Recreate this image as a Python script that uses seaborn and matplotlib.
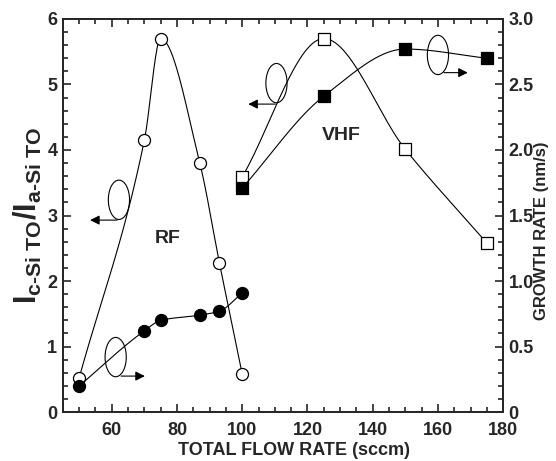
import numpy as np
import matplotlib
matplotlib.use("Agg")
import matplotlib.pyplot as plt
from matplotlib.patches import Ellipse
from matplotlib.ticker import MultipleLocator, FuncFormatter
import seaborn as sns

# RF (open circles: intensity ratio, filled circles: growth rate)
rf_flow = [50, 70, 75, 87, 93, 100]
rf_ratio = [0.52, 4.15, 5.70, 3.80, 2.28, 0.58]
rf_rate = [0.20, 0.62, 0.70, 0.74, 0.77, 0.91]

# VHF (open squares: intensity ratio, filled squares: growth rate)
vhf_flow = [100, 125, 150, 175]
vhf_ratio = [3.59, 5.70, 4.01, 2.58]
vhf_rate = [1.71, 2.41, 2.77, 2.70]


def pchip(x, y, n=200):
    # monotone cubic curve through the points, for the smooth guide lines
    x = np.asarray(x, float)
    y = np.asarray(y, float)
    h = np.diff(x)
    d = np.diff(y) / h
    m = np.zeros_like(y)
    for k in range(1, len(x) - 1):
        if d[k - 1] * d[k] > 0:
            w1 = 2 * h[k] + h[k - 1]
            w2 = h[k] + 2 * h[k - 1]
            m[k] = (w1 + w2) / (w1 / d[k - 1] + w2 / d[k])
    m[0] = d[0]
    m[-1] = d[-1]
    xs = np.linspace(x[0], x[-1], n)
    idx = np.clip(np.searchsorted(x, xs) - 1, 0, len(h) - 1)
    t = (xs - x[idx]) / h[idx]
    h00 = 2 * t**3 - 3 * t**2 + 1
    h10 = t**3 - 2 * t**2 + t
    h01 = -2 * t**3 + 3 * t**2
    h11 = t**3 - t**2
    ys = h00 * y[idx] + h10 * h[idx] * m[idx] + h01 * y[idx + 1] + h11 * h[idx] * m[idx + 1]
    return xs, ys


sns.set_style("ticks")
plt.rcParams["font.family"] = ["Liberation Sans", "DejaVu Sans"]
plt.rcParams["font.weight"] = "bold"
plt.rcParams["mathtext.fontset"] = "custom"
plt.rcParams["mathtext.rm"] = "Liberation Sans:bold"
plt.rcParams["mathtext.it"] = "Liberation Sans:bold"
plt.rcParams["mathtext.bf"] = "Liberation Sans:bold"

fig = plt.figure(figsize=(5.56, 4.61), dpi=100)
ax = fig.add_axes([0.113, 0.106, 0.792, 0.853])
ax2 = ax.twinx()

lw = 0.8
for xs, ys in [pchip(rf_flow, rf_ratio), pchip(vhf_flow, vhf_ratio)]:
    sns.lineplot(x=xs, y=ys, ax=ax, color="black", lw=lw, sort=False, zorder=2)
for xs, ys in [pchip(rf_flow, rf_rate), pchip(vhf_flow, vhf_rate)]:
    sns.lineplot(x=xs, y=ys, ax=ax2, color="black", lw=lw, sort=False, zorder=2)

sns.scatterplot(x=rf_flow, y=rf_ratio, ax=ax, marker="o", s=75, facecolor="white",
                edgecolor="black", linewidth=0.9, zorder=3)
sns.scatterplot(x=vhf_flow, y=vhf_ratio, ax=ax, marker="s", s=75, facecolor="white",
                edgecolor="black", linewidth=0.9, zorder=3)
sns.scatterplot(x=rf_flow, y=rf_rate, ax=ax2, marker="o", s=75, facecolor="black",
                edgecolor="black", linewidth=0.9, zorder=3)
sns.scatterplot(x=vhf_flow, y=vhf_rate, ax=ax2, marker="s", s=75, facecolor="black",
                edgecolor="black", linewidth=0.9, zorder=3)

ax.set_xlim(45, 180)
ax.set_ylim(0, 6)
ax2.set_ylim(0, 3)

# loops with arrows pointing to the axis each curve belongs to
loops = [((62.2, 3.24), (52.5, 2.93), (62.5, 2.93)),
         ((61.2, 0.84), (71.0, 0.55), (62.0, 0.55)),
         ((110.5, 5.02), (101.0, 4.70), (111.0, 4.70)),
         ((160.0, 5.45), (170.0, 5.18), (161.0, 5.18))]
for center, tip, tail in loops:
    ax.add_patch(Ellipse(center, width=6.5, height=0.6, fill=False, lw=lw, color="black", zorder=4))
    ax.annotate("", xy=tip, xytext=tail,
                arrowprops=dict(arrowstyle="-|>", color="black", lw=lw, mutation_scale=14))

ax.text(77, 2.65, "RF", fontsize=14, fontweight="bold", ha="center", va="center")
ax.text(130.5, 4.22, "VHF", fontsize=14, fontweight="bold", ha="center", va="center")

ax.xaxis.set_major_locator(MultipleLocator(20))
ax.xaxis.set_minor_locator(MultipleLocator(5))
ax.yaxis.set_major_locator(MultipleLocator(1))
ax.yaxis.set_minor_locator(MultipleLocator(0.2))
ax2.yaxis.set_major_locator(MultipleLocator(0.5))
ax2.yaxis.set_minor_locator(MultipleLocator(0.1))
ax2.yaxis.set_major_formatter(FuncFormatter(lambda v, p: "0" if v == 0 else f"{v:.1f}"))

ax.tick_params(which="both", direction="in", top=True, right=False, width=1.2)
ax.tick_params(which="major", length=6, labelsize=13, pad=4)
ax.tick_params(axis="x", which="major", pad=7)
ax.tick_params(which="minor", length=3.5)
ax2.tick_params(which="both", direction="in", width=1.2)
ax2.tick_params(which="major", length=6, labelsize=13, pad=4)
ax2.tick_params(which="minor", length=3.5)
for a in (ax, ax2):
    for s in a.spines.values():
        s.set_linewidth(1.3)
        s.set_visible(True)
    for lab in a.get_xticklabels() + a.get_yticklabels():
        lab.set_fontweight("bold")

ax.set_xlabel("TOTAL FLOW RATE (sccm)", fontsize=13, fontweight="bold", labelpad=0)
ax.xaxis.set_label_coords(0.525, -0.077)
ax.set_ylabel(r"$I_{c\text{-}Si\ TO}/I_{a\text{-}Si\ TO}$", fontsize=22, labelpad=2)
ax2.set_ylabel("GROWTH RATE (nm/s)", fontsize=12, fontweight="bold", rotation=90, labelpad=2)
ax2.yaxis.set_label_coords(1.07, 0.46)

fig.savefig("out.png", dpi=100)
